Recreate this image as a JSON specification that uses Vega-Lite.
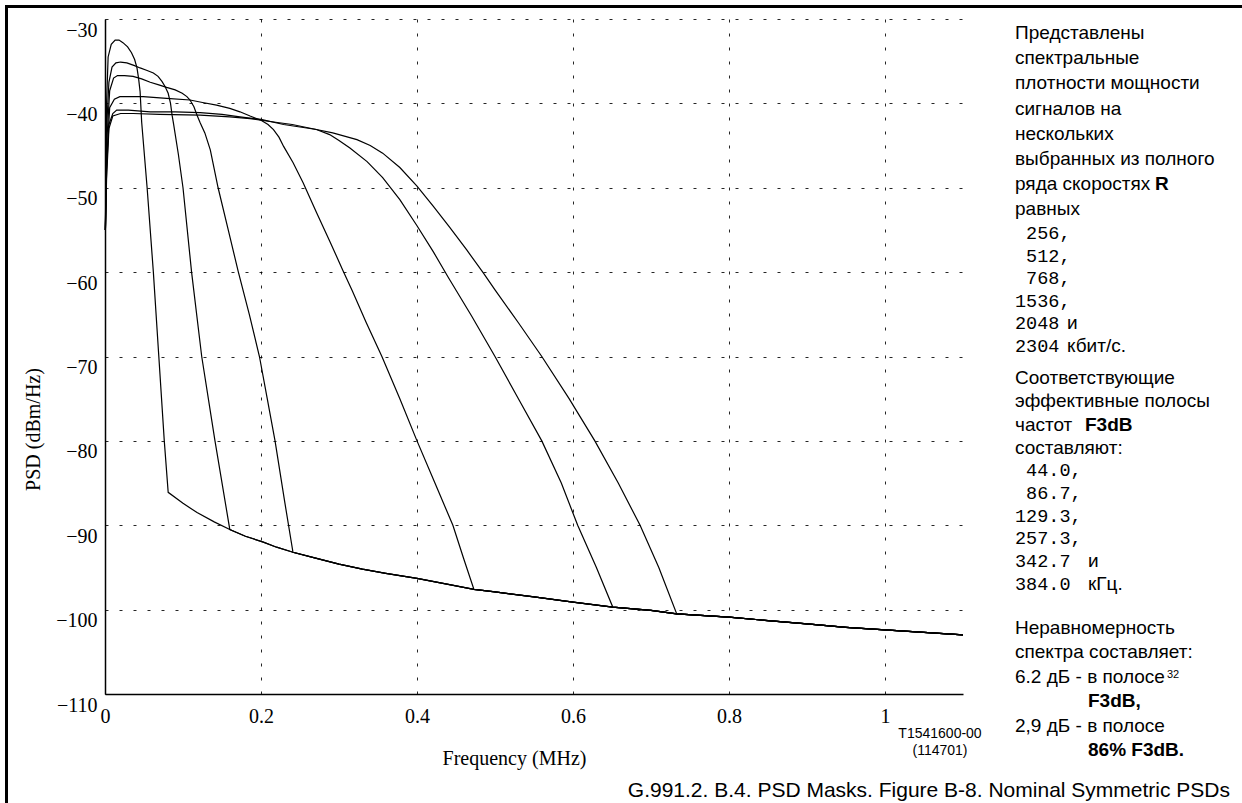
{
"$schema": "https://vega.github.io/schema/vega-lite/v6.json",
"width": 858, "height": 675,
"autosize": "none",
"padding": {"left": 105, "top": 19, "right": 279, "bottom": 109},
"background": "white",
"config": {"view": {"stroke": null}, "font": "Liberation Sans"},
"data": {"values": [
{"s":"256","f":0.0005,"p":-55},{"s":"256","f":0.002,"p":-40},{"s":"256","f":0.004,"p":-34.5},{"s":"256","f":0.008,"p":-33.0},{"s":"256","f":0.013,"p":-32.5},{"s":"256","f":0.018,"p":-32.5},{"s":"256","f":0.023,"p":-32.8},{"s":"256","f":0.029,"p":-33.3},{"s":"256","f":0.034,"p":-34.0},{"s":"256","f":0.038,"p":-34.8},{"s":"256","f":0.041,"p":-35.8},{"s":"256","f":0.043,"p":-37.0},{"s":"256","f":0.045,"p":-38.6},{"s":"256","f":0.047,"p":-42.2},{"s":"256","f":0.054,"p":-50},{"s":"256","f":0.062,"p":-60},{"s":"256","f":0.069,"p":-70},{"s":"256","f":0.076,"p":-80},{"s":"256","f":0.081,"p":-86.1},
{"s":"256","f":0.1,"p":-87.4},{"s":"256","f":0.118,"p":-88.5},{"s":"256","f":0.14,"p":-89.6},{"s":"256","f":0.16,"p":-90.5},{"s":"256","f":0.18,"p":-91.3},{"s":"256","f":0.203,"p":-92.0},{"s":"256","f":0.22,"p":-92.6},{"s":"256","f":0.241,"p":-93.2},{"s":"256","f":0.27,"p":-93.9},{"s":"256","f":0.3,"p":-94.6},{"s":"256","f":0.33,"p":-95.2},{"s":"256","f":0.36,"p":-95.7},{"s":"256","f":0.4,"p":-96.3},{"s":"256","f":0.44,"p":-97.0},{"s":"256","f":0.473,"p":-97.6},{"s":"256","f":0.5,"p":-97.9},{"s":"256","f":0.55,"p":-98.5},{"s":"256","f":0.6,"p":-99.1},{"s":"256","f":0.651,"p":-99.7},{"s":"256","f":0.7,"p":-100.1},{"s":"256","f":0.733,"p":-100.5},{"s":"256","f":0.8,"p":-100.9},{"s":"256","f":0.85,"p":-101.3},{"s":"256","f":0.9,"p":-101.7},{"s":"256","f":0.95,"p":-102.1},{"s":"256","f":1.0,"p":-102.4},{"s":"256","f":1.05,"p":-102.7},{"s":"256","f":1.1,"p":-103.0},
{"s":"512","f":0.0005,"p":-55},{"s":"512","f":0.002,"p":-43},{"s":"512","f":0.005,"p":-37.5},{"s":"512","f":0.009,"p":-35.7},{"s":"512","f":0.014,"p":-35.2},{"s":"512","f":0.02,"p":-35.1},{"s":"512","f":0.028,"p":-35.2},{"s":"512","f":0.037,"p":-35.5},{"s":"512","f":0.045,"p":-35.8},{"s":"512","f":0.054,"p":-36.1},{"s":"512","f":0.062,"p":-36.4},{"s":"512","f":0.068,"p":-36.8},{"s":"512","f":0.073,"p":-37.4},{"s":"512","f":0.077,"p":-38.0},{"s":"512","f":0.081,"p":-38.8},{"s":"512","f":0.084,"p":-40.0},{"s":"512","f":0.086,"p":-41.4},{"s":"512","f":0.088,"p":-42.5},{"s":"512","f":0.094,"p":-46},{"s":"512","f":0.1,"p":-50},{"s":"512","f":0.111,"p":-60},{"s":"512","f":0.124,"p":-70},{"s":"512","f":0.141,"p":-80},{"s":"512","f":0.16,"p":-90.5},
{"s":"512","f":0.18,"p":-91.3},{"s":"512","f":0.203,"p":-92.0},{"s":"512","f":0.22,"p":-92.6},{"s":"512","f":0.241,"p":-93.2},{"s":"512","f":0.27,"p":-93.9},{"s":"512","f":0.3,"p":-94.6},{"s":"512","f":0.33,"p":-95.2},{"s":"512","f":0.36,"p":-95.7},{"s":"512","f":0.4,"p":-96.3},{"s":"512","f":0.44,"p":-97.0},{"s":"512","f":0.473,"p":-97.6},{"s":"512","f":0.5,"p":-97.9},{"s":"512","f":0.55,"p":-98.5},{"s":"512","f":0.6,"p":-99.1},{"s":"512","f":0.651,"p":-99.7},{"s":"512","f":0.7,"p":-100.1},{"s":"512","f":0.733,"p":-100.5},{"s":"512","f":0.8,"p":-100.9},{"s":"512","f":0.85,"p":-101.3},{"s":"512","f":0.9,"p":-101.7},{"s":"512","f":0.95,"p":-102.1},{"s":"512","f":1.0,"p":-102.4},{"s":"512","f":1.05,"p":-102.7},{"s":"512","f":1.1,"p":-103.0},
{"s":"768","f":0.0005,"p":-55},{"s":"768","f":0.002,"p":-45},{"s":"768","f":0.006,"p":-38.5},{"s":"768","f":0.011,"p":-37.0},{"s":"768","f":0.016,"p":-36.7},{"s":"768","f":0.025,"p":-36.7},{"s":"768","f":0.036,"p":-36.8},{"s":"768","f":0.047,"p":-37.1},{"s":"768","f":0.058,"p":-37.5},{"s":"768","f":0.069,"p":-37.8},{"s":"768","f":0.079,"p":-38.1},{"s":"768","f":0.09,"p":-38.4},{"s":"768","f":0.099,"p":-38.8},{"s":"768","f":0.105,"p":-39.2},{"s":"768","f":0.109,"p":-39.6},{"s":"768","f":0.114,"p":-40.4},{"s":"768","f":0.118,"p":-41.4},{"s":"768","f":0.122,"p":-42.3},{"s":"768","f":0.128,"p":-43.5},{"s":"768","f":0.135,"p":-45.5},{"s":"768","f":0.145,"p":-50},{"s":"768","f":0.158,"p":-55},{"s":"768","f":0.171,"p":-60},{"s":"768","f":0.185,"p":-65},{"s":"768","f":0.198,"p":-70},{"s":"768","f":0.208,"p":-75},{"s":"768","f":0.218,"p":-80},{"s":"768","f":0.23,"p":-87},{"s":"768","f":0.241,"p":-93.2},
{"s":"768","f":0.27,"p":-93.9},{"s":"768","f":0.3,"p":-94.6},{"s":"768","f":0.33,"p":-95.2},{"s":"768","f":0.36,"p":-95.7},{"s":"768","f":0.4,"p":-96.3},{"s":"768","f":0.44,"p":-97.0},{"s":"768","f":0.473,"p":-97.6},{"s":"768","f":0.5,"p":-97.9},{"s":"768","f":0.55,"p":-98.5},{"s":"768","f":0.6,"p":-99.1},{"s":"768","f":0.651,"p":-99.7},{"s":"768","f":0.7,"p":-100.1},{"s":"768","f":0.733,"p":-100.5},{"s":"768","f":0.8,"p":-100.9},{"s":"768","f":0.85,"p":-101.3},{"s":"768","f":0.9,"p":-101.7},{"s":"768","f":0.95,"p":-102.1},{"s":"768","f":1.0,"p":-102.4},{"s":"768","f":1.05,"p":-102.7},{"s":"768","f":1.1,"p":-103.0},
{"s":"1536","f":0.0005,"p":-55},{"s":"1536","f":0.002,"p":-47},{"s":"1536","f":0.006,"p":-40.5},{"s":"1536","f":0.012,"p":-39.5},{"s":"1536","f":0.019,"p":-39.2},{"s":"1536","f":0.035,"p":-39.2},{"s":"1536","f":0.049,"p":-39.2},{"s":"1536","f":0.079,"p":-39.4},{"s":"1536","f":0.109,"p":-39.6},{"s":"1536","f":0.125,"p":-39.9},{"s":"1536","f":0.143,"p":-40.2},{"s":"1536","f":0.16,"p":-40.6},{"s":"1536","f":0.173,"p":-41.0},{"s":"1536","f":0.186,"p":-41.5},{"s":"1536","f":0.2,"p":-42.0},{"s":"1536","f":0.209,"p":-42.5},{"s":"1536","f":0.216,"p":-43.1},{"s":"1536","f":0.223,"p":-44.0},{"s":"1536","f":0.229,"p":-45.1},{"s":"1536","f":0.241,"p":-47.0},{"s":"1536","f":0.254,"p":-49.4},{"s":"1536","f":0.271,"p":-52.9},{"s":"1536","f":0.288,"p":-56.3},{"s":"1536","f":0.305,"p":-59.8},{"s":"1536","f":0.317,"p":-62.2},{"s":"1536","f":0.335,"p":-66},{"s":"1536","f":0.355,"p":-70},{"s":"1536","f":0.378,"p":-75},{"s":"1536","f":0.4,"p":-80},{"s":"1536","f":0.423,"p":-85},{"s":"1536","f":0.446,"p":-90},{"s":"1536","f":0.46,"p":-94},{"s":"1536","f":0.473,"p":-97.6},
{"s":"1536","f":0.5,"p":-97.9},{"s":"1536","f":0.55,"p":-98.5},{"s":"1536","f":0.6,"p":-99.1},{"s":"1536","f":0.651,"p":-99.7},{"s":"1536","f":0.7,"p":-100.1},{"s":"1536","f":0.733,"p":-100.5},{"s":"1536","f":0.8,"p":-100.9},{"s":"1536","f":0.85,"p":-101.3},{"s":"1536","f":0.9,"p":-101.7},{"s":"1536","f":0.95,"p":-102.1},{"s":"1536","f":1.0,"p":-102.4},{"s":"1536","f":1.05,"p":-102.7},{"s":"1536","f":1.1,"p":-103.0},
{"s":"2048","f":0.0005,"p":-55},{"s":"2048","f":0.002,"p":-48},{"s":"2048","f":0.005,"p":-42.5},{"s":"2048","f":0.01,"p":-41.2},{"s":"2048","f":0.015,"p":-40.8},{"s":"2048","f":0.03,"p":-40.8},{"s":"2048","f":0.058,"p":-41.0},{"s":"2048","f":0.09,"p":-41.0},{"s":"2048","f":0.122,"p":-41.1},{"s":"2048","f":0.15,"p":-41.3},{"s":"2048","f":0.173,"p":-41.6},{"s":"2048","f":0.2,"p":-41.9},{"s":"2048","f":0.229,"p":-42.5},{"s":"2048","f":0.25,"p":-42.8},{"s":"2048","f":0.271,"p":-43.1},{"s":"2048","f":0.288,"p":-43.7},{"s":"2048","f":0.3,"p":-44.4},{"s":"2048","f":0.314,"p":-45.3},{"s":"2048","f":0.336,"p":-46.9},{"s":"2048","f":0.356,"p":-48.8},{"s":"2048","f":0.378,"p":-51.4},{"s":"2048","f":0.4,"p":-54.5},{"s":"2048","f":0.421,"p":-57.6},{"s":"2048","f":0.44,"p":-60.6},{"s":"2048","f":0.47,"p":-65.2},{"s":"2048","f":0.5,"p":-70},{"s":"2048","f":0.53,"p":-75},{"s":"2048","f":0.56,"p":-80},{"s":"2048","f":0.585,"p":-85},{"s":"2048","f":0.606,"p":-90},{"s":"2048","f":0.63,"p":-95},{"s":"2048","f":0.651,"p":-99.7},
{"s":"2048","f":0.7,"p":-100.1},{"s":"2048","f":0.733,"p":-100.5},{"s":"2048","f":0.8,"p":-100.9},{"s":"2048","f":0.85,"p":-101.3},{"s":"2048","f":0.9,"p":-101.7},{"s":"2048","f":0.95,"p":-102.1},{"s":"2048","f":1.0,"p":-102.4},{"s":"2048","f":1.05,"p":-102.7},{"s":"2048","f":1.1,"p":-103.0},
{"s":"2304","f":0.0005,"p":-55},{"s":"2304","f":0.002,"p":-49},{"s":"2304","f":0.005,"p":-43},{"s":"2304","f":0.01,"p":-41.5},{"s":"2304","f":0.02,"p":-41.2},{"s":"2304","f":0.036,"p":-41.2},{"s":"2304","f":0.07,"p":-41.3},{"s":"2304","f":0.122,"p":-41.4},{"s":"2304","f":0.16,"p":-41.6},{"s":"2304","f":0.186,"p":-41.8},{"s":"2304","f":0.2,"p":-42.0},{"s":"2304","f":0.24,"p":-42.5},{"s":"2304","f":0.271,"p":-43.1},{"s":"2304","f":0.292,"p":-43.5},{"s":"2304","f":0.323,"p":-44.3},{"s":"2304","f":0.34,"p":-45.0},{"s":"2304","f":0.356,"p":-45.9},{"s":"2304","f":0.378,"p":-47.6},{"s":"2304","f":0.4,"p":-49.8},{"s":"2304","f":0.421,"p":-52.2},{"s":"2304","f":0.442,"p":-54.7},{"s":"2304","f":0.464,"p":-57.4},{"s":"2304","f":0.485,"p":-60.1},{"s":"2304","f":0.5,"p":-62.1},{"s":"2304","f":0.53,"p":-66},{"s":"2304","f":0.56,"p":-70},{"s":"2304","f":0.595,"p":-75},{"s":"2304","f":0.628,"p":-80},{"s":"2304","f":0.658,"p":-85},{"s":"2304","f":0.686,"p":-90},{"s":"2304","f":0.71,"p":-95},{"s":"2304","f":0.733,"p":-100.5},
{"s":"2304","f":0.8,"p":-100.9},{"s":"2304","f":0.85,"p":-101.3},{"s":"2304","f":0.9,"p":-101.7},{"s":"2304","f":0.95,"p":-102.1},{"s":"2304","f":1.0,"p":-102.4},{"s":"2304","f":1.05,"p":-102.7},{"s":"2304","f":1.1,"p":-103.0}
]},
"layer": [
{
"mark": {"type": "line", "color": "black", "strokeWidth": 1.2, "clip": false},
"encoding": {
"x": {"field": "f", "type": "quantitative",
 "scale": {"domain": [0, 1.1], "nice": false, "zero": false},
 "axis": {"values": [0, 0.2, 0.4, 0.6, 0.8, 1], "format": "~g", "title": "Frequency (MHz)",
  "labelFont": "Liberation Serif", "labelFontSize": 20, "labelColor": "black", "labelPadding": 12, "labelFlush": false, "labelOverlap": false,
  "ticks": false, "domainColor": "black", "domainWidth": 1.5,
  "grid": true, "gridColor": "#000", "gridDash": [3, 11], "gridWidth": 1, "gridOpacity": 0.85,
  "titleFont": "Liberation Serif", "titleFontSize": 20, "titleFontWeight": "normal", "titleColor": "black",
  "titleX": 409, "titleY": 64, "titleBaseline": "middle", "titleAlign": "center"}},
"y": {"field": "p", "type": "quantitative",
 "scale": {"domain": [-110, -30], "nice": false, "zero": false},
 "axis": {"values": [-110, -100, -90, -80, -70, -60, -50, -40, -30], "format": "~g", "title": "PSD (dBm/Hz)",
  "labelFont": "Liberation Serif", "labelFontSize": 20, "labelColor": "black", "labelPadding": 8, "labelBaseline": "top", "labelOffset": 1, "labelFlush": false, "labelOverlap": false,
  "ticks": false, "domainColor": "black", "domainWidth": 1.5,
  "grid": true, "gridColor": "#000", "gridDash": [3, 11], "gridWidth": 1, "gridOpacity": 0.85,
  "titleFont": "Liberation Serif", "titleFontSize": 20, "titleFontWeight": "normal", "titleColor": "black",
  "titleX": -72, "titleY": 410, "titleAngle": 270, "titleBaseline": "middle", "titleAlign": "center"}},
"detail": {"field": "s", "type": "nominal"}
}
},
{"data": {"values": [{}]}, "mark": {"type": "rule", "clip": false, "color": "black", "strokeWidth": 3},
 "encoding": {"x": {"datum": -0.1282}, "x2": {"datum": 1.46}, "y": {"datum": -28.519}}},
{"data": {"values": [{}]}, "mark": {"type": "rule", "clip": false, "color": "black", "strokeWidth": 3},
 "encoding": {"x": {"datum": -0.12628}, "y": {"datum": -28.341}, "y2": {"datum": -123}}},
{"data": {"values": [{}]}, "mark": {"type": "text", "clip": false, "align": "left", "baseline": "alphabetic", "font": "Liberation Sans", "fontSize": 19, "lineHeight": 25.2, "color": "black",
 "text": ["Представлены", "спектральные", "плотности мощности", "сигналов на", "нескольких", "выбранных из полного", "ряда скоростях", "равных"]},
 "encoding": {"x": {"datum": 1.16667}, "y": {"datum": -32.37}}},
{"data": {"values": [{}]}, "mark": {"type": "text", "clip": false, "align": "left", "baseline": "alphabetic", "font": "Liberation Sans", "fontSize": 19, "fontWeight": "bold", "color": "black", "text": "R"},
 "encoding": {"x": {"datum": 1.34615}, "y": {"datum": -50.29}}},
{"data": {"values": [{}]}, "mark": {"type": "text", "clip": false, "align": "left", "baseline": "alphabetic", "font": "Liberation Mono", "fontSize": 18.5, "lineHeight": 22.6, "color": "black",
 "text": ["256,", "512,", "768,"]},
 "encoding": {"x": {"datum": 1.1809}, "y": {"datum": -56.074}}},
{"data": {"values": [{}]}, "mark": {"type": "text", "clip": false, "align": "left", "baseline": "alphabetic", "font": "Liberation Mono", "fontSize": 18.5, "lineHeight": 22.6, "color": "black",
 "text": ["1536,", "2048", "2304"]},
 "encoding": {"x": {"datum": 1.16667}, "y": {"datum": -64.11}}},
{"data": {"values": [{}]}, "mark": {"type": "text", "clip": false, "align": "left", "baseline": "alphabetic", "font": "Liberation Sans", "fontSize": 19, "lineHeight": 22.6, "color": "black", "text": ["и", "кбит/с."]},
 "encoding": {"x": {"datum": 1.23333}, "y": {"datum": -66.788}}},
{"data": {"values": [{}]}, "mark": {"type": "text", "clip": false, "align": "left", "baseline": "alphabetic", "font": "Liberation Sans", "fontSize": 19, "lineHeight": 23.5, "color": "black",
 "text": ["Соответствующие", "эффективные полосы", "частот", "составляют:"]},
 "encoding": {"x": {"datum": 1.16667}, "y": {"datum": -73.259}}},
{"data": {"values": [{}]}, "mark": {"type": "text", "clip": false, "align": "left", "baseline": "alphabetic", "font": "Liberation Sans", "fontSize": 19, "fontWeight": "bold", "color": "black", "text": "F3dB"},
 "encoding": {"x": {"datum": 1.25641}, "y": {"datum": -78.83}}},
{"data": {"values": [{}]}, "mark": {"type": "text", "clip": false, "align": "left", "baseline": "alphabetic", "font": "Liberation Mono", "fontSize": 18.5, "lineHeight": 22.8, "color": "black",
 "text": ["44.0,", "86.7,"]},
 "encoding": {"x": {"datum": 1.1809}, "y": {"datum": -84.163}}},
{"data": {"values": [{}]}, "mark": {"type": "text", "clip": false, "align": "left", "baseline": "alphabetic", "font": "Liberation Mono", "fontSize": 18.5, "lineHeight": 22.8, "color": "black",
 "text": ["129.3,", "257.3,", "342.7", "384.0"]},
 "encoding": {"x": {"datum": 1.16667}, "y": {"datum": -89.567}}},
{"data": {"values": [{}]}, "mark": {"type": "text", "clip": false, "align": "left", "baseline": "alphabetic", "font": "Liberation Sans", "fontSize": 19, "lineHeight": 22.8, "color": "black", "text": ["и", "кГц."]},
 "encoding": {"x": {"datum": 1.26026}, "y": {"datum": -94.972}}},
{"data": {"values": [{}]}, "mark": {"type": "text", "clip": false, "align": "left", "baseline": "alphabetic", "font": "Liberation Sans", "fontSize": 19, "lineHeight": 24.4, "color": "black",
 "text": ["Неравномерность", "спектра составляет:", "6.2 дБ - в полосе"]},
 "encoding": {"x": {"datum": 1.16667}, "y": {"datum": -102.889}}},
{"data": {"values": [{}]}, "mark": {"type": "text", "clip": false, "align": "left", "baseline": "alphabetic", "font": "Liberation Sans", "fontSize": 19, "color": "black", "text": "2,9 дБ - в полосе"},
 "encoding": {"x": {"datum": 1.16667}, "y": {"datum": -114.456}}},
{"data": {"values": [{}]}, "mark": {"type": "text", "clip": false, "align": "left", "baseline": "alphabetic", "font": "Liberation Sans", "fontSize": 11, "color": "black", "text": "32"},
 "encoding": {"x": {"datum": 1.36154}, "y": {"datum": -108.104}}},
{"data": {"values": [{}]}, "mark": {"type": "text", "clip": false, "align": "left", "baseline": "alphabetic", "font": "Liberation Sans", "fontSize": 19, "fontWeight": "bold", "color": "black", "text": "F3dB,"},
 "encoding": {"x": {"datum": 1.26026}, "y": {"datum": -111.564}}},
{"data": {"values": [{}]}, "mark": {"type": "text", "clip": false, "align": "left", "baseline": "alphabetic", "font": "Liberation Sans", "fontSize": 19, "fontWeight": "bold", "color": "black", "text": "86% F3dB."},
 "encoding": {"x": {"datum": 1.26026}, "y": {"datum": -117.348}}},
{"data": {"values": [{}]}, "mark": {"type": "text", "clip": false, "align": "center", "baseline": "alphabetic", "font": "Liberation Sans", "fontSize": 14, "lineHeight": 17, "color": "black", "text": ["T1541600-00", "(114701)"]},
 "encoding": {"x": {"datum": 1.07051}, "y": {"datum": -115.215}}},
{"data": {"values": [{}]}, "mark": {"type": "text", "clip": false, "align": "right", "baseline": "alphabetic", "font": "Liberation Sans", "fontSize": 21, "color": "black", "text": "G.991.2. B.4. PSD Masks. Figure B-8. Nominal Symmetric PSDs"},
 "encoding": {"x": {"datum": 1.44231}, "y": {"datum": -122.207}}}
]
}
